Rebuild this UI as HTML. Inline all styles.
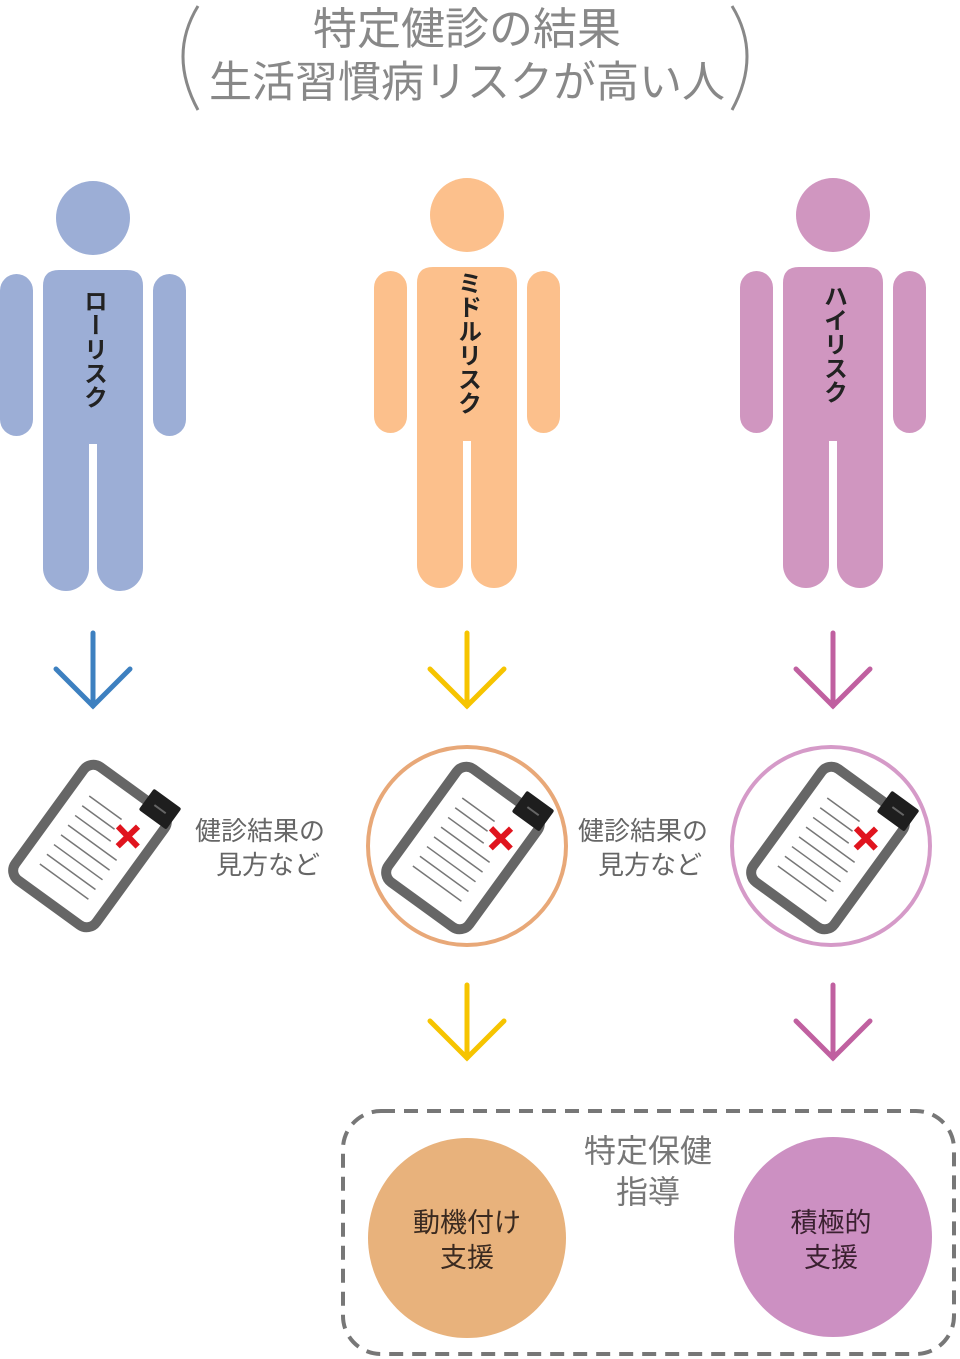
<!DOCTYPE html>
<html><head><meta charset="utf-8"><style>
html,body{margin:0;padding:0;background:#fff;}
svg{display:block;}
text{font-family:"Liberation Sans","Noto Sans CJK JP",sans-serif;}
</style></head><body>
<svg width="960" height="1359" viewBox="0 0 960 1359" xmlns="http://www.w3.org/2000/svg">
<defs>
<g id="clip">
  <rect x="-50" y="-70" width="100" height="140" rx="12" fill="#fff" stroke="#666" stroke-width="10"/>
  <rect x="18" y="-84" width="34" height="26" rx="2" fill="#1e1e1e"/>
  <line x1="28" y1="-71" x2="42" y2="-71" stroke="#666" stroke-width="2"/>
  <g stroke="#777" stroke-width="1.5">
    <line x1="-30" y1="-40" x2="10" y2="-40"/>
    <line x1="-30" y1="-28" x2="10" y2="-28"/>
    <line x1="-30" y1="-16" x2="14" y2="-16"/>
    <line x1="-30" y1="-4" x2="30" y2="-4"/>
    <line x1="-30" y1="8" x2="30" y2="8"/>
    <line x1="-30" y1="20" x2="30" y2="20"/>
    <line x1="-30" y1="32" x2="30" y2="32"/>
    <line x1="-30" y1="44" x2="30" y2="44"/>
  </g>
  <g stroke="#e0141e" stroke-width="6" transform="translate(25,-30) rotate(-35)">
    <line x1="-10" y1="-10" x2="10" y2="10"/><line x1="10" y1="-10" x2="-10" y2="10"/>
  </g>
</g>
<g id="person">
  <circle cx="0" cy="0" r="37"/>
  <path d="M-50,68 Q-50,52 -34,52 L34,52 Q50,52 50,68 L50,350 A23,23 0 0 1 4,350 L4,226 L-4,226 L-4,350 A23,23 0 0 1 -50,350 Z"/>
  <rect x="-93" y="56" width="33" height="162" rx="16.5"/>
  <rect x="60" y="56" width="33" height="162" rx="16.5"/>
</g>
</defs>

<!-- Title -->
<path d="M198,6 Q168,55 198,110" fill="none" stroke="#888" stroke-width="3"/>
<path d="M732,6 Q762,55 732,110" fill="none" stroke="#888" stroke-width="3"/>
<text x="467" y="44" font-size="44" fill="#888" text-anchor="middle">特定健診の結果</text>
<text x="467" y="97" font-size="43" fill="#888" text-anchor="middle">生活習慣病リスクが高い人</text>

<!-- Persons -->
<g fill="#9caed6" transform="translate(93,218)"><use href="#person"/></g>
<g fill="#fcc08c" transform="translate(467,215)"><use href="#person"/></g>
<g fill="#d096c0" transform="translate(833,215)"><use href="#person"/></g>

<g font-size="24" font-weight="bold" fill="#222" text-anchor="middle">
<text x="93" y="349" style="writing-mode:vertical-rl">ローリスク</text>
<text x="467" y="343" style="writing-mode:vertical-rl">ミドルリスク</text>
<text x="833" y="344" style="writing-mode:vertical-rl">ハイリスク</text>
</g>

<!-- Arrows -->
<g fill="none" stroke-width="5" stroke-linecap="round">
<g stroke="#3d80c0"><line x1="93" y1="633" x2="93" y2="706"/><polyline points="56,669 93,706 130,669"/></g>
<g stroke="#f6c400"><line x1="467" y1="633" x2="467" y2="706"/><polyline points="430,669 467,706 504,669"/></g>
<g stroke="#c060a0"><line x1="833" y1="633" x2="833" y2="706"/><polyline points="796,669 833,706 870,669"/></g>
<g stroke="#f6c400"><line x1="467" y1="985" x2="467" y2="1058"/><polyline points="430,1021 467,1058 504,1021"/></g>
<g stroke="#c060a0"><line x1="833" y1="985" x2="833" y2="1058"/><polyline points="796,1021 833,1058 870,1021"/></g>
</g>

<!-- Clipboards -->
<circle cx="467" cy="846" r="99" fill="none" stroke="#e8a878" stroke-width="4"/>
<circle cx="831" cy="846" r="99" fill="none" stroke="#d59ac8" stroke-width="4"/>
<g transform="translate(90,846) rotate(36)"><use href="#clip"/></g>
<g transform="translate(463,848) rotate(36)"><use href="#clip"/></g>
<g transform="translate(828,848) rotate(36)"><use href="#clip"/></g>

<g font-size="26" fill="#666">
<text x="195" y="840">健診結果の</text>
<text x="216" y="874">見方など</text>
<text x="578" y="840">健診結果の</text>
<text x="598" y="874">見方など</text>
</g>

<!-- Bottom box -->
<rect x="343" y="1111" width="611" height="243" rx="38" fill="none" stroke="#777" stroke-width="4" stroke-dasharray="14,9"/>
<ellipse cx="467" cy="1238" rx="99" ry="100" fill="#e8b27c"/>
<ellipse cx="833" cy="1237" rx="99" ry="100" fill="#cc90c2"/>
<g font-size="32" fill="#777" text-anchor="middle">
<text x="648" y="1162">特定保健</text>
<text x="648" y="1203">指導</text>
</g>
<g font-size="27" fill="#3a2a20" text-anchor="middle">
<text x="467" y="1232">動機付け</text>
<text x="467" y="1267">支援</text>
<text x="831" y="1232" fill="#3a2030">積極的</text>
<text x="831" y="1267" fill="#3a2030">支援</text>
</g>
</svg>
</body></html>
